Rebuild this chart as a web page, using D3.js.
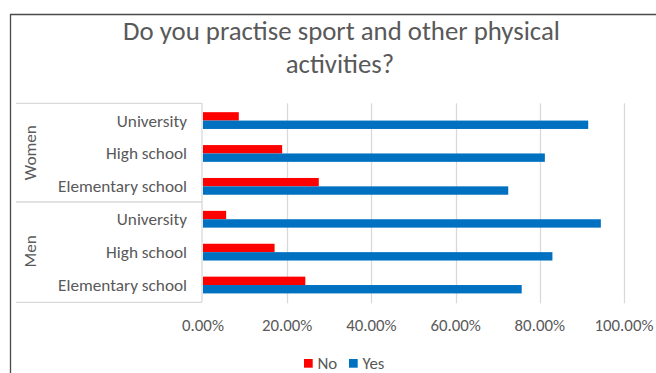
<!DOCTYPE html>
<html>
<head>
<meta charset="utf-8">
<script src="https://cdn.jsdelivr.net/npm/d3@7"></script>
<style>
  html, body { margin: 0; padding: 0; background: #fff; }
  svg { display: block; }
  text { font-family: Carlito, Lato, "Open Sans", sans-serif; fill: #595959; }
</style>
</head>
<body>
<svg id="chart" width="656" height="373"></svg>
<script>
// Survey answers, share of respondents (top row first)
const groups = ["Women", "Men"];
const levels = ["University", "High school", "Elementary school"];
const seriesNames = ["No", "Yes"];
const noValues  = [0.085, 0.188, 0.275, 0.055, 0.170, 0.243];
const yesValues = [0.915, 0.812, 0.725, 0.945, 0.830, 0.757];
const tickValues = [0, 0.2, 0.4, 0.6, 0.8, 1.0];
const colors = { No: "#FF0000", Yes: "#0070C0" };

const rows = [];
groups.forEach((g, gi) => levels.forEach((l, li) => {
  const i = gi * levels.length + li;
  rows.push({ key: g + "|" + l, group: g, level: l, No: noValues[i], Yes: yesValues[i] });
}));

const svg = d3.select("#chart");

// shrink/grow a text's font size so its rendered width equals w
function fitWidth(sel, w) {
  const node = sel.node();
  const base = parseFloat(sel.attr("font-size"));
  const len = node.getComputedTextLength();
  sel.attr("font-size", (base * w / len).toFixed(2));
  return base * w / len;
}

// chart frame (top and left edges)
svg.append("line").attr("x1", 10).attr("x2", 656).attr("y1", 14.5).attr("y2", 14.5)
  .attr("stroke", "#4a4a4a").attr("stroke-width", 1.6);
svg.append("line").attr("x1", 10.5).attr("x2", 10.5).attr("y1", 14).attr("y2", 373)
  .attr("stroke", "#4a4a4a").attr("stroke-width", 1.3);

// title
const t1 = svg.append("text").attr("x", 341.5).attr("y", 40).attr("text-anchor", "middle")
  .attr("font-size", 22).text("Do you practise sport and other physical");
const titleSize = fitWidth(t1, 437);
svg.append("text").attr("x", 340).attr("y", 73).attr("text-anchor", "middle")
  .attr("font-size", titleSize).text("activities?");

// scales
const plotTop = 103.3, plotBottom = 302.3;
const x = d3.scaleLinear().domain([0, 1]).range([203, 624]);
const y = d3.scaleBand().domain(rows.map(r => r.key)).range([plotTop, plotBottom])
  .paddingInner(0.49).paddingOuter(0.27);
const ySub = d3.scaleBand().domain(seriesNames).range([0, y.bandwidth()]);
const step = y.step();

// gridlines
svg.append("g").selectAll("line").data(tickValues.slice(1)).join("line")
  .attr("x1", d => Math.round(x(d)) + 0.5).attr("x2", d => Math.round(x(d)) + 0.5)
  .attr("y1", plotTop).attr("y2", plotBottom + 1)
  .attr("stroke", "#d9d9d9").attr("stroke-width", 1.3);

// category box lines
const boxLeft = 16, boxRight = 202;
const boxLines = [plotTop, plotTop + step * 3, plotBottom];
svg.append("g").selectAll("line").data(boxLines).join("line")
  .attr("x1", boxLeft).attr("x2", boxRight).attr("y1", d => d).attr("y2", d => d)
  .attr("stroke", "#d9d9d9").attr("stroke-width", 1.3);
svg.append("line").attr("x1", boxRight).attr("x2", boxRight)
  .attr("y1", plotTop).attr("y2", plotBottom)
  .attr("stroke", "#d9d9d9").attr("stroke-width", 1.3);

// bars
const barG = svg.append("g");
rows.forEach(r => {
  seriesNames.forEach(s => {
    barG.append("rect")
      .attr("x", x(0))
      .attr("y", y(r.key) + ySub(s))
      .attr("width", x(r[s]) - x(0))
      .attr("height", ySub.bandwidth())
      .attr("fill", colors[s]);
  });
});

// level labels
const catLabels = svg.append("g").selectAll("text").data(rows).join("text")
  .attr("x", 187).attr("y", d => y(d.key) + y.bandwidth() / 2)
  .attr("dy", "0.35em").attr("text-anchor", "end")
  .attr("font-size", 15).text(d => d.level);
const elem = catLabels.filter((d, i) => i === 2);
const catSize = fitWidth(elem, 129);
catLabels.attr("font-size", catSize);

// group labels (rotated)
groups.forEach((g, gi) => {
  const cy = plotTop + step * (gi * 3 + 1.5);
  svg.append("text")
    .attr("transform", `translate(30,${cy}) rotate(-90)`)
    .attr("text-anchor", "middle").attr("dy", "0.35em")
    .attr("font-size", catSize).text(g);
});

// x axis labels
const fmt = d3.format(".2%");
const tickLabels = svg.append("g").selectAll("text").data(tickValues).join("text")
  .attr("x", d => x(d)).attr("y", 325).attr("dy", "0.35em")
  .attr("text-anchor", "middle").attr("font-size", 15).text(d => fmt(d));
const tickSize = fitWidth(tickLabels.filter((d, i) => i === tickValues.length - 1), 59);
tickLabels.attr("font-size", tickSize);

// legend
const legend = svg.append("g");
const legendX = [304, 349];
seriesNames.forEach((s, i) => {
  legend.append("rect").attr("x", legendX[i]).attr("y", 359)
    .attr("width", 8.7).attr("height", 8.7).attr("fill", colors[s]);
  legend.append("text").attr("x", legendX[i] + 13.5).attr("y", 363.5).attr("dy", "0.35em")
    .attr("font-size", tickSize).text(s);
});
</script>
</body>
</html>
